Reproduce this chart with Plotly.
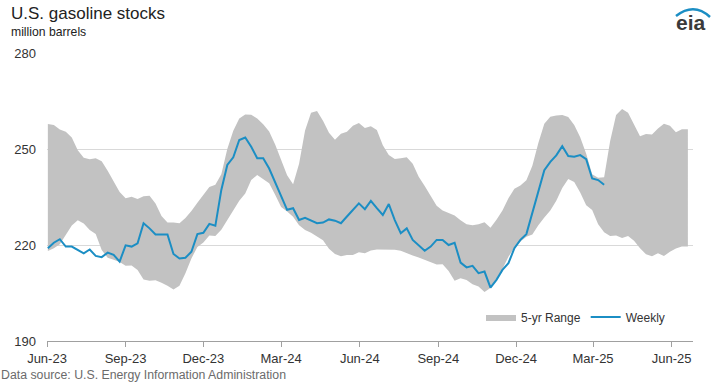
import pandas as pd
import plotly.graph_objects as go

# ---- data (million barrels), weekly, week ending Friday ----
start_date = "2023-06-02"

weekly = [219.0, 220.7, 221.8, 219.5, 219.5, 218.4, 217.4, 218.6, 216.6, 216.2,
          217.6, 216.9, 214.8, 219.9, 219.5, 220.5, 226.8, 225.2, 223.3, 223.3,
          223.3, 217.2, 215.8, 216.0, 217.9, 223.4, 223.8, 226.6, 226.0, 237.2,
          245.0, 247.4, 252.8, 253.6, 250.7, 247.1, 247.1, 243.9, 239.6, 234.8,
          231.0, 231.5, 227.8, 228.5, 227.6, 226.8, 227.0, 228.0, 227.6, 226.8,
          228.9, 230.9, 233.0, 231.2, 233.8, 231.5, 229.4, 232.8, 227.8, 223.7,
          225.2, 221.6, 220.0, 218.2, 219.5, 221.6, 221.6, 220.0, 220.7, 214.5,
          213.0, 213.5, 211.2, 211.7, 206.7, 209.1, 212.2, 214.3, 219.0, 221.6,
          223.4, 230.0, 237.0, 243.4, 246.0, 248.0, 250.9, 247.8, 247.6, 248.1,
          246.8, 240.8, 240.3, 238.8]

range_max = [257.8, 257.5, 256.1, 255.4, 253.6, 249.6, 247.3, 246.8, 247.1, 246.2,
             243.2, 239.9, 236.6, 234.6, 235.1, 234.4, 235.2, 235.4, 233.0, 229.1,
             227.0, 227.0, 226.8, 228.4, 230.6, 233.2, 235.8, 238.1, 238.8, 242.1,
             250.0, 255.7, 259.5, 260.8, 260.7, 259.5, 257.7, 255.5, 251.4, 246.3,
             241.8, 239.0, 245.4, 255.8, 261.3, 261.9, 258.8, 255.1, 252.9, 254.8,
             255.4, 257.3, 258.1, 256.6, 257.1, 255.9, 251.2, 248.1, 246.9, 247.1,
             247.4, 245.4, 241.3, 238.4, 235.2, 232.3, 230.8, 230.1, 229.2, 227.7,
             226.5, 226.2, 226.5, 227.1, 225.4, 227.9, 230.8, 234.6, 237.6, 238.6,
             240.2, 244.8, 251.9, 257.9, 260.1, 260.5, 260.6, 260.0, 257.5, 253.7,
             248.5, 242.1, 241.0, 241.2, 252.4, 260.6, 262.5, 261.3, 257.6, 254.0,
             254.7, 254.5, 256.4, 257.9, 257.3, 255.2, 256.2, 256.2]

range_min = [218.1, 219.0, 220.2, 223.1, 226.1, 227.7, 226.7, 224.7, 223.4, 218.4,
             216.0, 215.4, 214.7, 213.5, 213.6, 212.2, 209.2, 208.8, 209.0, 208.2,
             207.3, 206.1, 207.3, 211.2, 215.8, 219.4, 220.8, 223.0, 222.8, 224.8,
             227.8, 230.7, 233.8, 236.1, 240.3, 241.9, 240.6, 239.3, 235.7, 231.9,
             230.5, 228.8, 226.2, 224.7, 223.8, 222.6, 221.5, 218.8, 217.2, 216.5,
             216.9, 216.9, 217.7, 217.4, 218.3, 218.6, 218.6, 218.5, 218.5, 218.2,
             217.4, 216.7, 216.1, 215.4, 214.7, 213.9, 214.0, 211.9, 208.8, 209.6,
             209.1, 207.7, 207.0, 205.3, 206.6, 209.7, 212.5, 216.3, 219.2, 221.1,
             222.6, 223.3, 226.2, 228.6, 230.8, 233.8, 237.8, 240.6, 239.7, 236.4,
             232.4, 230.9, 226.5, 224.0, 222.8, 223.0, 222.2, 222.8, 221.3, 219.0,
             217.1, 216.5, 217.4, 216.6, 217.9, 218.9, 219.5, 219.5]

y_ticks = [190, 220, 250, 280]

band_dates = pd.date_range(start_date, periods=len(range_max), freq="7D")
weekly_dates = band_dates[:len(weekly)]

FONT = "Liberation Sans, Arial, sans-serif"
BAND = "#c2c2c2"
BLUE = "#1b8ec4"

fig = go.Figure()
fig.add_trace(go.Scatter(x=band_dates, y=range_min, mode="lines",
                         line=dict(width=0, color=BAND), showlegend=False,
                         hoverinfo="skip"))
fig.add_trace(go.Scatter(x=band_dates, y=range_max, mode="lines", fill="tonexty",
                         fillcolor=BAND, line=dict(width=0, color=BAND),
                         name="5-yr Range"))
fig.add_trace(go.Scatter(x=weekly_dates, y=weekly, mode="lines",
                         line=dict(width=2, color=BLUE), name="Weekly"))

def px_x(p):
    return (p - 47) / 646.0

def px_y(p):
    return (341 - p) / 288.0

annotations = [
    dict(text="U.S. gasoline stocks", x=px_x(9), y=px_y(13), xref="paper", yref="paper",
         xanchor="left", yanchor="middle", showarrow=False,
         font=dict(family=FONT, size=17, color="#222222")),
    dict(text="million barrels", x=px_x(9), y=px_y(32), xref="paper", yref="paper",
         xanchor="left", yanchor="middle", showarrow=False,
         font=dict(family=FONT, size=12.2, color="#222222")),
    dict(text="Data source: U.S. Energy Information Administration", x=px_x(-1), y=px_y(375),
         xref="paper", yref="paper", xanchor="left", yanchor="middle", showarrow=False,
         font=dict(family=FONT, size=12.3, color="#6b6b6b")),
    dict(text="<b>eia</b>", x=px_x(691), y=px_y(23), xref="paper", yref="paper",
         xanchor="center", yanchor="middle", showarrow=False,
         font=dict(family=FONT, size=21, color="#3a3a3a")),
]

shapes = [
    dict(type="path", xref="paper", yref="paper",
         path=f"M {px_x(676)},{px_y(16)} Q {px_x(694)},{px_y(2)} {px_x(710)},{px_y(17)}",
         line=dict(color=BLUE, width=2.5)),
]

fig.update_layout(
    width=719, height=384,
    margin=dict(l=47, r=26, t=53, b=43),
    paper_bgcolor="white", plot_bgcolor="white",
    font=dict(family=FONT, size=13, color="#333333"),
    showlegend=True,
    legend=dict(orientation="h", x=px_x(481), y=px_y(317), xanchor="left", yanchor="middle",
                font=dict(family=FONT, size=12, color="#333333"),
                bgcolor="rgba(0,0,0,0)", traceorder="normal"),
    annotations=annotations,
    shapes=shapes,
    xaxis=dict(range=["2023-06-01", "2025-06-26"], tick0="2023-06-01", dtick="M3",
               tickformat="%b-%y", ticks="outside", ticklen=5, tickcolor="#a0a0a0",
               showline=True, linecolor="#a0a0a0", linewidth=1, showgrid=False,
               zeroline=False, tickfont=dict(family=FONT, size=13, color="#333333")),
    yaxis=dict(range=[190, 280], tickvals=y_ticks, showgrid=True, gridcolor="#d9d9d9",
               gridwidth=1, zeroline=False, showline=False, ticks="",
               ticklabelstandoff=10,
               tickfont=dict(family=FONT, size=13, color="#333333")),
)

fig.write_html("out.html", config={"displayModeBar": False},
               post_script="document.body.style.margin='0px';document.body.style.padding='0px';")
